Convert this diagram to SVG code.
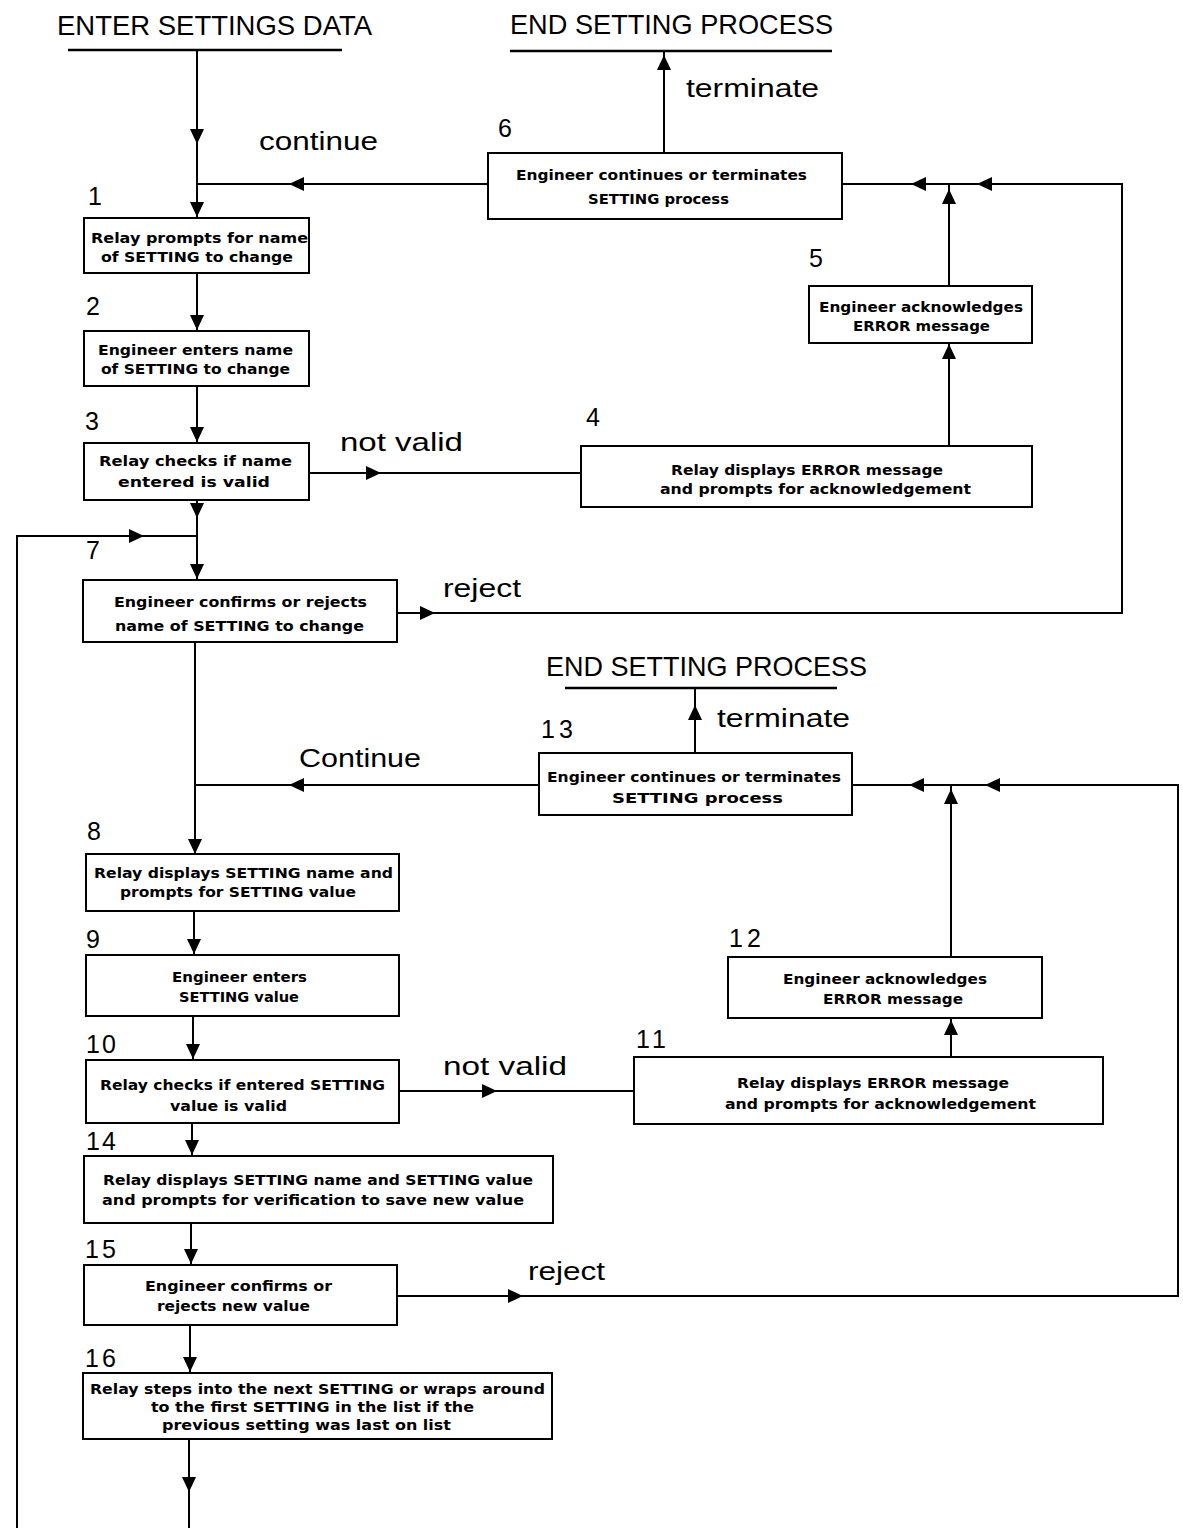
<svg xmlns="http://www.w3.org/2000/svg" xmlns:xlink="http://www.w3.org/1999/xlink" width="1183" height="1528" viewBox="0 0 1183 1528">
<style>
.bx{fill:#fff;stroke:#000;stroke-width:2}
.ln{fill:none;stroke:#000;stroke-width:2}
.ul{fill:none;stroke:#000;stroke-width:2.5}
.t{font-family:"DejaVu Sans","Liberation Sans",sans-serif;font-weight:bold;font-size:14px;text-anchor:middle;fill:#000}
.lb{font-family:"Liberation Sans","DejaVu Sans",sans-serif;font-size:25px;fill:#000}
.hd{font-family:"Liberation Sans","DejaVu Sans",sans-serif;font-size:28px;fill:#000}
.ah{fill:#000}
</style>
<defs>
<path id="ah" d="M0,0 L-7,-15 L7,-15 Z"/>
</defs>
<rect width="1183" height="1528" fill="#fff"/>

<g id="headings">
<text class="hd" x="57" y="35" textLength="315" lengthAdjust="spacingAndGlyphs">ENTER SETTINGS DATA</text>
<line class="ul" x1="68" y1="50" x2="342" y2="50"/>
<text class="hd" x="510" y="34" textLength="323" lengthAdjust="spacingAndGlyphs">END SETTING PROCESS</text>
<line class="ul" x1="510" y1="51" x2="832" y2="51"/>
<text class="hd" x="546" y="676" textLength="321" lengthAdjust="spacingAndGlyphs">END SETTING PROCESS</text>
<line class="ul" x1="565" y1="688" x2="837" y2="688"/>
</g>

<g id="connectors">
<path class="ln" d="M197,51 V218"/>
<path class="ln" d="M488,184 H197"/>
<path class="ln" d="M664,153 V51"/>
<path class="ln" d="M397,613 H1122 V184 H842"/>
<path class="ln" d="M949,446 V343"/>
<path class="ln" d="M949,286 V184"/>
<path class="ln" d="M197,273 V331"/>
<path class="ln" d="M197,386 V443"/>
<path class="ln" d="M197,500 V580"/>
<path class="ln" d="M309,473 H581"/>
<path class="ln" d="M17,1528 V536 H197"/>
<path class="ln" d="M195,642 V853"/>
<path class="ln" d="M539,785 H195"/>
<path class="ln" d="M695,753 V688"/>
<path class="ln" d="M397,1296 H1178 V785 H852"/>
<path class="ln" d="M951,957 V785"/>
<path class="ln" d="M951,1057 V1018"/>
<path class="ln" d="M399,1091 H634"/>
<path class="ln" d="M194,911 V955"/>
<path class="ln" d="M193,1016 V1060"/>
<path class="ln" d="M192,1123 V1156"/>
<path class="ln" d="M191,1223 V1265"/>
<path class="ln" d="M190,1325 V1373"/>
<path class="ln" d="M189,1439 V1528"/>
<g class="ah">
<use xlink:href="#ah" transform="translate(197,144)"/>
<use xlink:href="#ah" transform="translate(197,217)"/>
<use xlink:href="#ah" transform="translate(197,330)"/>
<use xlink:href="#ah" transform="translate(197,442)"/>
<use xlink:href="#ah" transform="translate(197,518)"/>
<use xlink:href="#ah" transform="translate(197,579)"/>
<use xlink:href="#ah" transform="translate(195,854)"/>
<use xlink:href="#ah" transform="translate(194,954)"/>
<use xlink:href="#ah" transform="translate(193,1059)"/>
<use xlink:href="#ah" transform="translate(192,1155)"/>
<use xlink:href="#ah" transform="translate(191,1264)"/>
<use xlink:href="#ah" transform="translate(190,1372)"/>
<use xlink:href="#ah" transform="translate(189,1492)"/>
<use xlink:href="#ah" transform="translate(289,184) rotate(90)"/>
<use xlink:href="#ah" transform="translate(911,184) rotate(90)"/>
<use xlink:href="#ah" transform="translate(977,184) rotate(90)"/>
<use xlink:href="#ah" transform="translate(289,785) rotate(90)"/>
<use xlink:href="#ah" transform="translate(909,785) rotate(90)"/>
<use xlink:href="#ah" transform="translate(985,785) rotate(90)"/>
<use xlink:href="#ah" transform="translate(664,55) rotate(180)"/>
<use xlink:href="#ah" transform="translate(949,189) rotate(180)"/>
<use xlink:href="#ah" transform="translate(949,344) rotate(180)"/>
<use xlink:href="#ah" transform="translate(695,705) rotate(180)"/>
<use xlink:href="#ah" transform="translate(951,789) rotate(180)"/>
<use xlink:href="#ah" transform="translate(951,1020) rotate(180)"/>
<use xlink:href="#ah" transform="translate(144,536) rotate(-90)"/>
<use xlink:href="#ah" transform="translate(381,473) rotate(-90)"/>
<use xlink:href="#ah" transform="translate(435,613) rotate(-90)"/>
<use xlink:href="#ah" transform="translate(497,1091) rotate(-90)"/>
<use xlink:href="#ah" transform="translate(523,1296) rotate(-90)"/>
</g>
<text class="lb" x="259" y="150" textLength="119" lengthAdjust="spacingAndGlyphs">continue</text>
<text class="lb" x="686" y="97" textLength="133" lengthAdjust="spacingAndGlyphs">terminate</text>
<text class="lb" x="340" y="451" textLength="123" lengthAdjust="spacingAndGlyphs">not valid</text>
<text class="lb" x="443" y="597" textLength="78" lengthAdjust="spacingAndGlyphs">reject</text>
<text class="lb" x="299" y="767" textLength="122" lengthAdjust="spacingAndGlyphs">Continue</text>
<text class="lb" x="717" y="727" textLength="133" lengthAdjust="spacingAndGlyphs">terminate</text>
<text class="lb" x="443" y="1075" textLength="124" lengthAdjust="spacingAndGlyphs">not valid</text>
<text class="lb" x="528" y="1280" textLength="77" lengthAdjust="spacingAndGlyphs">reject</text>
</g>

<g id="n1"><text class="lb" x="88" y="205">1</text><rect class="bx" x="84" y="218" width="225" height="55"/>
<text class="t" x="199.5" y="243" textLength="217" lengthAdjust="spacingAndGlyphs">Relay prompts for name</text>
<text class="t" x="197" y="262" textLength="192" lengthAdjust="spacingAndGlyphs">of SETTING to change</text></g>

<g id="n2"><text class="lb" x="86" y="315">2</text><rect class="bx" x="84" y="331" width="225" height="55"/>
<text class="t" x="195.5" y="355" textLength="195" lengthAdjust="spacingAndGlyphs">Engineer enters name</text>
<text class="t" x="195.5" y="374" textLength="189" lengthAdjust="spacingAndGlyphs">of SETTING to change</text></g>

<g id="n3"><text class="lb" x="85" y="430">3</text><rect class="bx" x="84" y="443" width="225" height="57"/>
<text class="t" x="195.5" y="466" textLength="193" lengthAdjust="spacingAndGlyphs">Relay checks if name</text>
<text class="t" x="194" y="487" textLength="152" lengthAdjust="spacingAndGlyphs">entered is valid</text></g>

<g id="n4"><text class="lb" x="586" y="426">4</text><rect class="bx" x="581" y="446" width="451" height="61"/>
<text class="t" x="807" y="475" textLength="272" lengthAdjust="spacingAndGlyphs">Relay displays ERROR message</text>
<text class="t" x="815.5" y="494" textLength="311" lengthAdjust="spacingAndGlyphs">and prompts for acknowledgement</text></g>

<g id="n5"><text class="lb" x="809" y="267">5</text><rect class="bx" x="809" y="286" width="223" height="57"/>
<text class="t" x="921" y="312" textLength="204" lengthAdjust="spacingAndGlyphs">Engineer acknowledges</text>
<text class="t" x="921.5" y="331" textLength="137" lengthAdjust="spacingAndGlyphs">ERROR message</text></g>

<g id="n6"><text class="lb" x="498" y="137">6</text><rect class="bx" x="488" y="153" width="354" height="66"/>
<text class="t" x="661.5" y="180" textLength="291" lengthAdjust="spacingAndGlyphs">Engineer continues or terminates</text>
<text class="t" x="658.5" y="204" textLength="141" lengthAdjust="spacingAndGlyphs">SETTING process</text></g>

<g id="n7"><text class="lb" x="86" y="559">7</text><rect class="bx" x="83" y="580" width="314" height="62"/>
<text class="t" x="240.5" y="607" textLength="253" lengthAdjust="spacingAndGlyphs">Engineer confirms or rejects</text>
<text class="t" x="239.5" y="631" textLength="249" lengthAdjust="spacingAndGlyphs">name of SETTING to change</text></g>

<g id="n8"><text class="lb" x="87" y="840">8</text><rect class="bx" x="86" y="854" width="313" height="57"/>
<text class="t" x="243.5" y="878" textLength="299" lengthAdjust="spacingAndGlyphs">Relay displays SETTING name and</text>
<text class="t" x="238" y="897" textLength="236" lengthAdjust="spacingAndGlyphs">prompts for SETTING value</text></g>

<g id="n9"><text class="lb" x="86" y="948">9</text><rect class="bx" x="86" y="955" width="313" height="61"/>
<text class="t" x="239.5" y="982" textLength="135" lengthAdjust="spacingAndGlyphs">Engineer enters</text>
<text class="t" x="239" y="1002" textLength="120" lengthAdjust="spacingAndGlyphs">SETTING value</text></g>

<g id="n10"><text class="lb" x="86" y="1053" textLength="30" lengthAdjust="spacing">10</text><rect class="bx" x="86" y="1060" width="313" height="63"/>
<text class="t" x="242.5" y="1090" textLength="285" lengthAdjust="spacingAndGlyphs">Relay checks if entered SETTING</text>
<text class="t" x="228.5" y="1111" textLength="117" lengthAdjust="spacingAndGlyphs">value is valid</text></g>

<g id="n11"><text class="lb" x="636" y="1048" textLength="30" lengthAdjust="spacing">11</text><rect class="bx" x="634" y="1057" width="469" height="67"/>
<text class="t" x="873" y="1088" textLength="272" lengthAdjust="spacingAndGlyphs">Relay displays ERROR message</text>
<text class="t" x="880.5" y="1109" textLength="311" lengthAdjust="spacingAndGlyphs">and prompts for acknowledgement</text></g>

<g id="n12"><text class="lb" x="729" y="947" textLength="32" lengthAdjust="spacing">12</text><rect class="bx" x="728" y="957" width="314" height="61"/>
<text class="t" x="885" y="984" textLength="204" lengthAdjust="spacingAndGlyphs">Engineer acknowledges</text>
<text class="t" x="893" y="1004" textLength="140" lengthAdjust="spacingAndGlyphs">ERROR message</text></g>

<g id="n13"><text class="lb" x="541" y="738" textLength="32" lengthAdjust="spacing">13</text><rect class="bx" x="539" y="753" width="313" height="62"/>
<text class="t" x="694" y="782" textLength="294" lengthAdjust="spacingAndGlyphs">Engineer continues or terminates</text>
<text class="t" x="697.5" y="803" textLength="171" lengthAdjust="spacingAndGlyphs">SETTING process</text></g>

<g id="n14"><text class="lb" x="86" y="1150" textLength="30" lengthAdjust="spacing">14</text><rect class="bx" x="84" y="1156" width="469" height="67"/>
<text class="t" x="318" y="1185" textLength="430" lengthAdjust="spacingAndGlyphs">Relay displays SETTING name and SETTING value</text>
<text class="t" x="313" y="1205" textLength="422" lengthAdjust="spacingAndGlyphs">and prompts for verification to save new value</text></g>

<g id="n15"><text class="lb" x="85" y="1258" textLength="31" lengthAdjust="spacing">15</text><rect class="bx" x="84" y="1265" width="313" height="60"/>
<text class="t" x="238.5" y="1291" textLength="187" lengthAdjust="spacingAndGlyphs">Engineer confirms or</text>
<text class="t" x="233.5" y="1311" textLength="153" lengthAdjust="spacingAndGlyphs">rejects new value</text></g>

<g id="n16"><text class="lb" x="85" y="1367" textLength="31" lengthAdjust="spacing">16</text><rect class="bx" x="83" y="1373" width="469" height="66"/>
<text class="t" x="317.5" y="1394" textLength="455" lengthAdjust="spacingAndGlyphs">Relay steps into the next SETTING or wraps around</text>
<text class="t" x="312.5" y="1412" textLength="323" lengthAdjust="spacingAndGlyphs">to the first SETTING in the list if the</text>
<text class="t" x="306.5" y="1430" textLength="289" lengthAdjust="spacingAndGlyphs">previous setting was last on list</text></g>
</svg>
